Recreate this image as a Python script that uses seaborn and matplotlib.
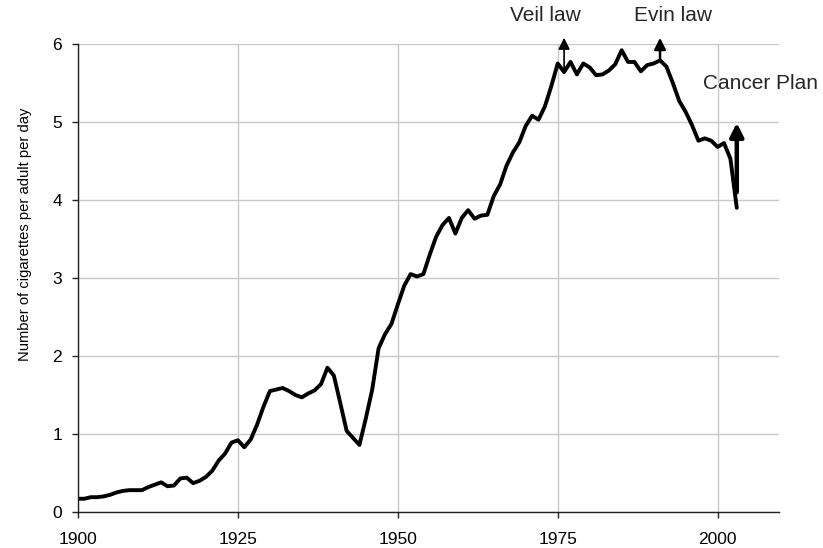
import numpy as np
import pandas as pd
import matplotlib
matplotlib.use("Agg")
import matplotlib.pyplot as plt
import seaborn as sns

years = list(range(1900, 2004))
cigarettes = [
    0.17, 0.17, 0.19, 0.19, 0.20, 0.22, 0.25, 0.27, 0.28, 0.28,   # 1900-1909
    0.28, 0.32, 0.35, 0.38, 0.33, 0.34, 0.43, 0.44, 0.37, 0.40,   # 1910-1919
    0.45, 0.53, 0.66, 0.75, 0.89, 0.92, 0.83, 0.93, 1.12, 1.35,   # 1920-1929
    1.55, 1.57, 1.59, 1.55, 1.50, 1.47, 1.52, 1.56, 1.64, 1.85,   # 1930-1939
    1.75, 1.40, 1.04, 0.95, 0.86, 1.20, 1.57, 2.10, 2.28, 2.41,   # 1940-1949
    2.66, 2.90, 3.05, 3.02, 3.05, 3.30, 3.53, 3.68, 3.77, 3.57,   # 1950-1959
    3.77, 3.87, 3.76, 3.80, 3.81, 4.05, 4.20, 4.44, 4.61, 4.74,   # 1960-1969
    4.95, 5.08, 5.03, 5.20, 5.46, 5.75, 5.64, 5.77, 5.61, 5.75,   # 1970-1979
    5.70, 5.60, 5.61, 5.66, 5.74, 5.92, 5.77, 5.77, 5.65, 5.73,   # 1980-1989
    5.75, 5.79, 5.71, 5.50, 5.27, 5.13, 4.96, 4.76, 4.79, 4.76,   # 1990-1999
    4.68, 4.73, 4.53, 3.90,                                       # 2000-2003
]

event_labels = ["Veil law", "Evin law", "Cancer Plan"]
event_years = [1976, 1991, 2003]
event_start = [5.65, 5.79, 4.10]
event_end = [6.08, 6.08, 4.99]

x_ticks = [1900, 1925, 1950, 1975, 2000]
y_ticks = [0, 1, 2, 3, 4, 5, 6]

df = pd.DataFrame({"year": years, "value": cigarettes})

sns.set_theme(style="whitegrid")
plt.rcParams["font.family"] = ["Liberation Sans", "DejaVu Sans"]

fig = plt.figure(figsize=(8.23, 5.48), dpi=100)
ax = fig.add_axes([78 / 823, 1 - 512 / 548, (779 - 78) / 823, (512 - 44) / 548])

sns.lineplot(data=df, x="year", y="value", color="black", linewidth=2.8, ax=ax)

ax.set_xlim(1900, 2009.6)
ax.set_ylim(0, 6)
ax.set_xticks(x_ticks)
ax.set_yticks(y_ticks)
ax.set_xticklabels([str(t) for t in x_ticks])
ax.set_yticklabels([str(t) for t in y_ticks])

ax.grid(True, color="#c8c8c8", linewidth=1.0)
ax.set_axisbelow(True)
for s in ["top", "right"]:
    ax.spines[s].set_visible(False)
for s in ["left", "bottom"]:
    ax.spines[s].set_visible(True)
    ax.spines[s].set_color("#222222")
    ax.spines[s].set_linewidth(1.0)

ax.tick_params(axis="both", which="major", direction="out", length=4.5, width=1.0,
               color="#222222", labelsize=12.5, labelcolor="black")
ax.tick_params(axis="x", pad=10, bottom=True)
ax.tick_params(axis="y", pad=7, left=True)

ax.set_xlabel("")
ax.set_ylabel("Number of cigarettes per adult per day", fontsize=10.6, color="black")
ax.yaxis.set_label_coords(-0.066, 0.593)

widths = [1.2, 1.8, 3.2]
heads = [17, 17, 20]
for lab, yr, y0, y1, w, h in zip(event_labels, event_years, event_start, event_end, widths, heads):
    ax.annotate("", xy=(yr, y1), xytext=(yr, y0),
                arrowprops=dict(arrowstyle="-|>", color="black", lw=w,
                                mutation_scale=h, shrinkA=0, shrinkB=0),
                annotation_clip=False)

ax.text(1973.1, 6.37, "Veil law", ha="center", va="center", fontsize=15, clip_on=False)
ax.text(1993.0, 6.37, "Evin law", ha="center", va="center", fontsize=15, clip_on=False)
ax.text(1997.65, 5.49, "Cancer Plan", ha="left", va="center", fontsize=15, clip_on=False)

fig.savefig("out.png", dpi=100)
